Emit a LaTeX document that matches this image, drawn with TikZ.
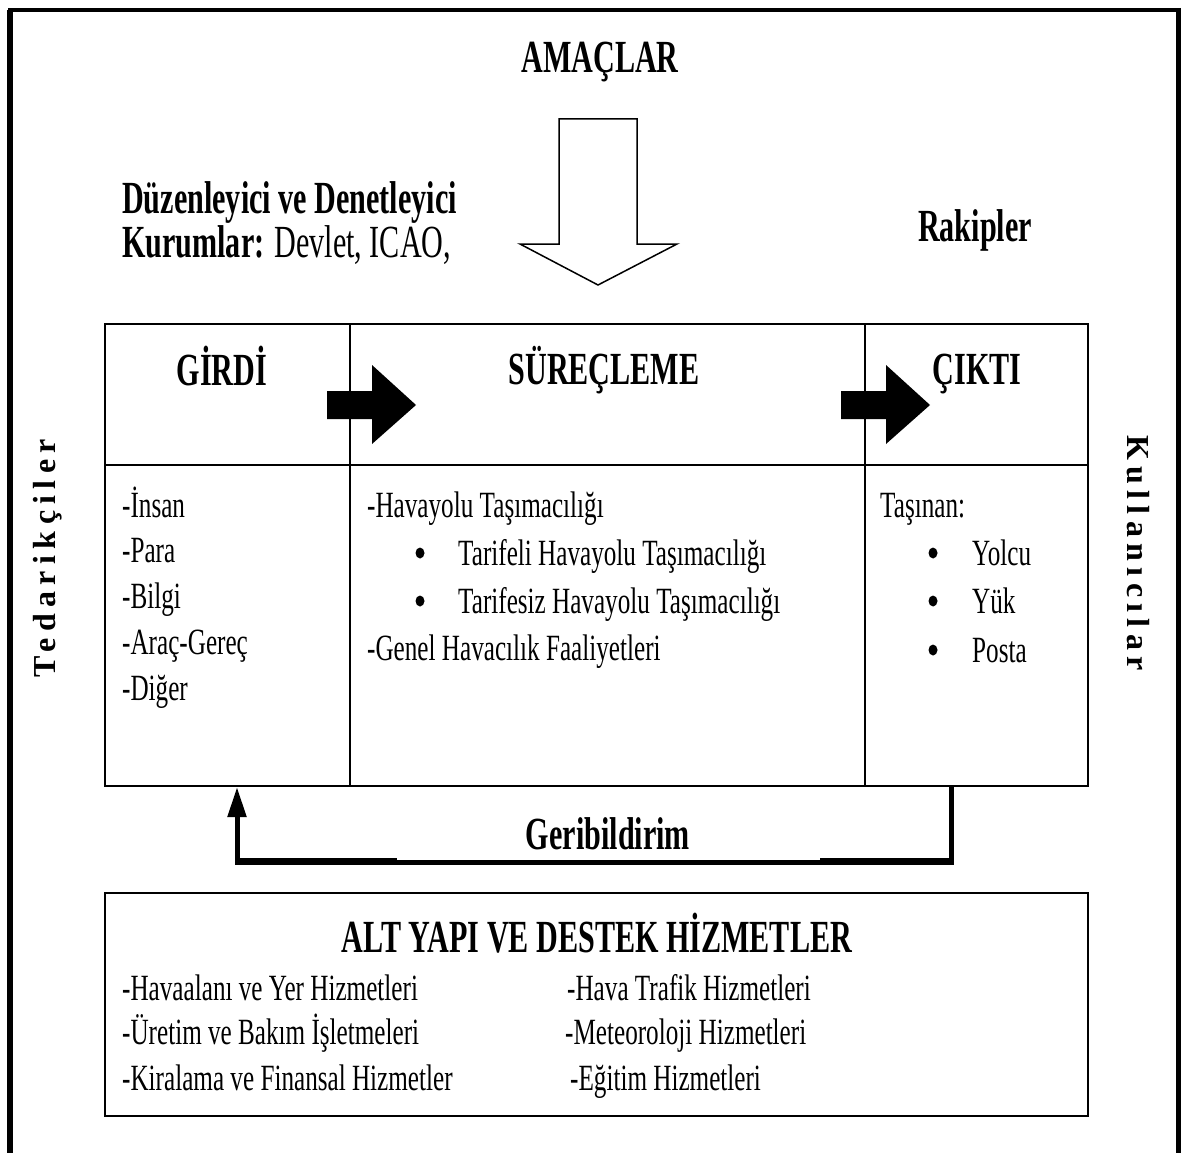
\documentclass[tikz,border=0pt]{standalone}
\usepackage{fontspec}
\setmainfont{Liberation Serif}[FakeStretch=0.68]
\newfontfamily\headfont{Liberation Serif}[FakeStretch=0.655]
\newfontfamily\sidefont{Liberation Serif}[LetterSpace=20]
\usetikzlibrary{arrows.meta,shapes.geometric}

\begin{document}
\begin{tikzpicture}[x=1pt,y=-1pt,
  head/.style={font=\headfont\fontsize{46}{50}\selectfont\bfseries, inner sep=0pt},
  body/.style={font=\fontsize{37}{42}\selectfont, inner sep=0pt, anchor=base west},
  cell/.style={draw, line width=2pt, inner sep=0pt, anchor=north west},
  side/.style={font=\sidefont\fontsize{32}{36}\selectfont\bfseries, inner sep=0pt},
  dotmark/.style={ellipse, fill=black, inner sep=0pt, minimum width=9pt, minimum height=11pt},
  frameline/.style={line width=5pt},
  blockarrow/.style={fill=black},
  feedback/.style={line width=5pt},
]
% page
\fill[white] (0,0) rectangle (1181,1153);
\useasboundingbox (0,0) rectangle (1181,1153);

% outer frame, open at the bottom
\draw[line width=6pt] (10,1153) -- (10,10);
\draw[line width=4pt] (8,10) -- (1180,10);
\draw[frameline] (1178,8) -- (1178,1153);

% goals and the hollow arrow pointing into the process
\node[head, anchor=base] (amaclar) at (600,73) {AMAÇLAR};
\draw[line width=1.5pt, fill=white] (559,119) -- (637,119) -- (637,244) -- (677,244)
  -- (598,285) -- (520,244) -- (559,244) -- cycle;

\node[head, anchor=base west] (duz) at (122,213) {Düzenleyici ve Denetleyici};
\node[head, anchor=base west] (kur) at (122,257) {Kurumlar: {\mdseries Devlet, ICAO,}};
\node[head, anchor=base] (rakip) at (975,241) {Rakipler};

% input / process / output table
\node[cell, minimum width=245pt, minimum height=141pt] (girdiH) at (104,323) {};
\node[cell, minimum width=515pt, minimum height=141pt] (surecH) at (349,323) {};
\node[cell, minimum width=223pt, minimum height=141pt] (ciktiH) at (864,323) {};
\node[cell, minimum width=245pt, minimum height=321pt] (girdiB) at (104,464) {};
\node[cell, minimum width=515pt, minimum height=321pt] (surecB) at (349,464) {};
\node[cell, minimum width=223pt, minimum height=321pt] (ciktiB) at (864,464) {};

\node[head, anchor=base] (tGirdi) at (222,385) {GİRDİ};
\node[head, anchor=base] (tSurec) at (604,384) {SÜREÇLEME};
\node[head, anchor=base] (tCikti) at (977,384) {ÇIKTI};

% solid block arrows between the stages
\fill[blockarrow] (327,391) -- (372,391) -- (372,365) -- (416,405) -- (372,444)
  -- (372,419) -- (327,419) -- cycle;
\fill[blockarrow] (841,391) -- (886,391) -- (886,365) -- (930,405) -- (886,444)
  -- (886,419) -- (841,419) -- cycle;

% inputs
\node[body] (g1) at (122,517) {-İnsan};
\node[body] (g2) at (122,562) {-Para};
\node[body] (g3) at (122,608) {-Bilgi};
\node[body] (g4) at (122,654) {-Araç-Gereç};
\node[body] (g5) at (122,700) {-Diğer};

% processing
\node[body] (s1) at (367,517) {-Havayolu Taşımacılığı};
\node[dotmark] (sb2) at (420,553) {};
\node[body] (s2) at (458,565) {Tarifeli Havayolu Taşımacılığı};
\node[dotmark] (sb3) at (420,601) {};
\node[body] (s3) at (458,613) {Tarifesiz Havayolu Taşımacılığı};
\node[body] (s4) at (367,660) {-Genel Havacılık Faaliyetleri};

% outputs
\node[body] (c1) at (880,517) {Taşınan:};
\node[dotmark] (cb2) at (933,553) {};
\node[body] (c2) at (972,565) {Yolcu};
\node[dotmark] (cb3) at (933,601) {};
\node[body] (c3) at (972,613) {Yük};
\node[dotmark] (cb4) at (933,650) {};
\node[body] (c4) at (972,662) {Posta};

% side labels
\node[side, rotate=90] (ted) at (48,558) {Tedarikçiler};
\node[side, rotate=-90] (kul) at (1138,553) {Kullanıcılar};

% feedback loop from output back to input
\coordinate (fbA) at (951,786);
\coordinate (fbB) at (951,862);
\coordinate (fbC) at (237,862);
\coordinate (fbD) at (237,787);
\draw[feedback, -{Triangle[length=30pt,width=18pt]}] (fbA) -- (fbB) -- (fbC) -- (fbD);
\draw[line width=7pt] ([yshift=1pt]fbB) -- ([yshift=1pt]fbC);
\node[head, fill=white, minimum width=423pt, minimum height=52pt] (geri) at (608,834) {Geribildirim};

% infrastructure and support services
\node[cell, minimum width=983pt, minimum height=223pt] (altyapi) at (104,892) {};
\node[head, anchor=base] (tAlt) at (597,952) {ALT YAPI VE DESTEK HİZMETLER};
\node[body] (a1) at (122,1000) {-Havaalanı ve Yer Hizmetleri};
\node[body] (a2) at (122,1044) {-Üretim ve Bakım İşletmeleri};
\node[body] (a3) at (122,1090) {-Kiralama ve Finansal Hizmetler};
\node[body] (a4) at (567,1000) {-Hava Trafik Hizmetleri};
\node[body] (a5) at (565,1044) {-Meteoroloji Hizmetleri};
\node[body] (a6) at (570,1090) {-Eğitim Hizmetleri};
\end{tikzpicture}
\end{document}
